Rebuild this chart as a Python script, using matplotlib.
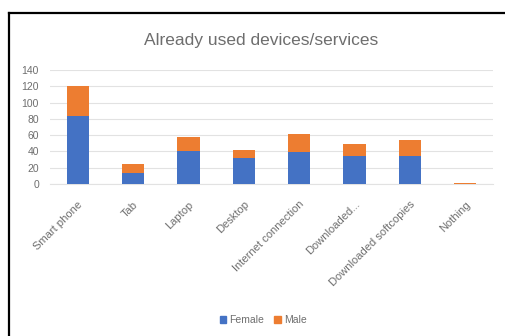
import matplotlib
matplotlib.use("Agg")
import matplotlib.pyplot as plt
from matplotlib.lines import Line2D

categories = ["Smart phone", "Tab", "Laptop", "Desktop", "Internet connection",
              "Downloaded...", "Downloaded softcopies", "Nothing"]
female = [84, 13, 40, 32, 39, 34, 34, 0]
male = [36, 11, 18, 10, 23, 15, 20, 1]
yticks = [0, 20, 40, 60, 80, 100, 120, 140]

BLUE = "#4472C4"
ORANGE = "#ED7D31"
TEXT = "#6E6E6E"
GRID = "#E2E2E2"

plt.rcParams["font.family"] = ["Liberation Sans", "DejaVu Sans"]

W, H = 505, 336
fig = plt.figure(figsize=(W / 100, H / 100), dpi=100)
fig.patch.set_facecolor("white")

# plot area in pixel terms
left, right, bottom, top = 50, 493, 184, 70
ax = fig.add_axes([left / W, (H - bottom) / H, (right - left) / W, (bottom - top) / H])

x = list(range(len(categories)))
ax.bar(x, female, width=0.4, color=BLUE, label="Female", zorder=3)
ax.bar(x, male, width=0.4, bottom=female, color=ORANGE, label="Male", zorder=3)

ax.set_xlim(-0.5, len(categories) - 0.5)
ax.set_ylim(0, 140)
ax.set_yticks(yticks)
ax.set_yticklabels([str(v) for v in yticks], fontsize=7.5, color=TEXT)
ax.set_xticks(x)
ax.set_xticklabels(categories, rotation=45, ha="right", rotation_mode="anchor",
                   fontsize=8, color=TEXT)
ax.tick_params(axis="y", length=0, pad=8)
ax.tick_params(axis="x", length=0, pad=11)
ax.grid(axis="y", color=GRID, linewidth=0.8, zorder=0)
for s in ["top", "right", "left"]:
    ax.spines[s].set_visible(False)
ax.spines["bottom"].set_color(GRID)
ax.spines["bottom"].set_linewidth(0.8)

fig.text(261 / W, 1 - 40 / H, "Already used devices/services", ha="center", va="center",
         fontsize=12.5, color=TEXT)

handles = [plt.Rectangle((0, 0), 1, 1, color=BLUE), plt.Rectangle((0, 0), 1, 1, color=ORANGE)]
fig.legend(handles, ["Female", "Male"], loc="center", bbox_to_anchor=(263 / W, 1 - 320 / H),
           ncol=2, frameon=False, fontsize=7.5, handlelength=0.6, handleheight=0.6,
           handletextpad=0.3, columnspacing=1.0, labelcolor=TEXT)

# outer frame
fig.add_artist(Line2D([8.5 / W, 8.5 / W], [0, 1 - 12.5 / H], transform=fig.transFigure,
                      color="black", linewidth=1.6))
fig.add_artist(Line2D([8.5 / W, 1], [1 - 12.5 / H, 1 - 12.5 / H], transform=fig.transFigure,
                      color="black", linewidth=1.6))

fig.savefig("out.png", dpi=100)
